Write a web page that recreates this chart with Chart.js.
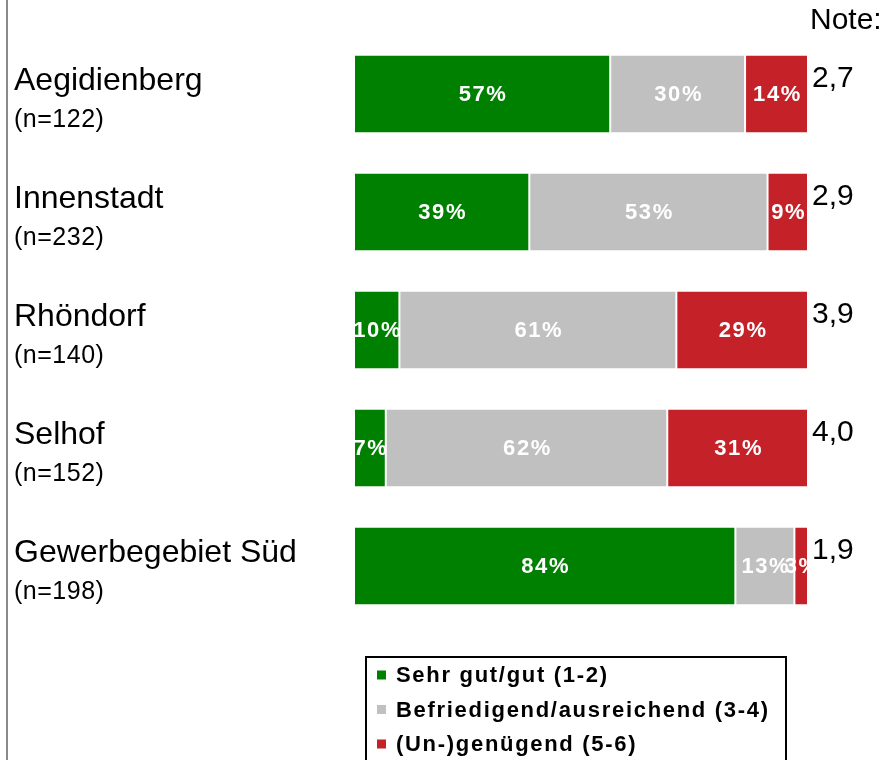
<!DOCTYPE html>
<html>
<head>
<meta charset="utf-8">
<script src="https://cdn.jsdelivr.net/npm/chart.js@4"></script>
<style>
  html, body { margin: 0; padding: 0; background: #ffffff; }
  #wrap { width: 886px; height: 760px; position: relative; }
</style>
</head>
<body>
<div id="wrap"><canvas id="c" width="886" height="760"></canvas></div>
<script>
// ---- Data ----
const categories = ['Aegidienberg', 'Innenstadt', 'Rhöndorf', 'Selhof', 'Gewerbegebiet Süd'];
const sampleSizes = ['(n=122)', '(n=232)', '(n=140)', '(n=152)', '(n=198)'];
const seriesNames = ['Sehr gut/gut (1-2)', 'Befriedigend/ausreichend (3-4)', '(Un-)genügend (5-6)'];
const sehrGut = [57, 39, 10, 7, 84];
const befriedigend = [30, 53, 61, 62, 13];
const ungenuegend = [14, 9, 29, 31, 3];
const grades = ['2,7', '2,9', '3,9', '4,0', '1,9'];
const gradeHeader = 'Note:';

const colors = ['#008000', '#C0C0C0', '#C42128'];
const rawSeries = [sehrGut, befriedigend, ungenuegend];
// normalise each row to a 100 % bar (displayed values are rounded)
const totals = categories.map((_, i) => rawSeries.reduce((s, arr) => s + arr[i], 0));
const datasets = rawSeries.map((arr, d) => ({
  label: seriesNames[d],
  data: arr.map((v, i) => v / totals[i] * 100),
  rawLabels: arr.map(v => v + '%'),
  backgroundColor: colors[d],
  borderColor: '#ffffff',
  borderWidth: { left: 1, right: 1, top: 0, bottom: 0 },
  borderSkipped: false,
  barPercentage: 0.6525,
  categoryPercentage: 1.0
}));

const FONT = '"Liberation Sans", Arial, sans-serif';

const decorPlugin = {
  id: 'decor',
  beforeDraw(chart) {
    const ctx = chart.ctx;
    ctx.save();
    ctx.fillStyle = '#ffffff';
    ctx.fillRect(0, 0, chart.width, chart.height);
    ctx.fillStyle = '#8a8a8a';
    ctx.fillRect(6, 0, 2, chart.height);
    ctx.restore();
  },
  afterDatasetsDraw(chart) {
    const ctx = chart.ctx;
    ctx.save();
    // labels inside bars
    ctx.fillStyle = '#ffffff';
    ctx.font = 'bold 22px ' + FONT;
    ctx.letterSpacing = '1.6px';
    ctx.textAlign = 'center';
    ctx.textBaseline = 'middle';
    chart.data.datasets.forEach((ds, d) => {
      const meta = chart.getDatasetMeta(d);
      meta.data.forEach((el, i) => {
        const cx = (el.base + el.x) / 2 + 1;
        ctx.fillText(ds.rawLabels[i], cx, el.y + 1);
      });
    });
    ctx.letterSpacing = '0px';

    // category labels and grades
    const meta0 = chart.getDatasetMeta(0);
    const area = chart.chartArea;
    ctx.fillStyle = '#000000';
    ctx.textAlign = 'left';
    meta0.data.forEach((el, i) => {
      ctx.font = '32px ' + FONT;
      ctx.fillText(categories[i], 14, el.y - 13);
      ctx.font = '25px ' + FONT;
      ctx.letterSpacing = '0.5px';
      ctx.fillText(sampleSizes[i], 14, el.y + 26);
      ctx.letterSpacing = '0px';
      ctx.font = '30px ' + FONT;
      ctx.fillText(grades[i], area.right + 4, el.y - 15);
    });
    ctx.font = '30px ' + FONT;
    ctx.fillText(gradeHeader, 810, 21);

    // legend box
    ctx.strokeStyle = '#000000';
    ctx.lineWidth = 2;
    ctx.strokeRect(366, 657, 420, 130);
    ctx.font = 'bold 22px ' + FONT;
    ctx.letterSpacing = '1.7px';
    const rowY = [675, 709.5, 744];
    chart.data.datasets.forEach((ds, d) => {
      ctx.fillStyle = ds.backgroundColor;
      ctx.fillRect(377, rowY[d] - 4.5, 9, 9);
      ctx.fillStyle = '#000000';
      ctx.fillText(ds.label, 396, rowY[d] + 1);
    });
    ctx.restore();
  }
};

new Chart(document.getElementById('c'), {
  type: 'bar',
  data: { labels: categories, datasets },
  options: {
    indexAxis: 'y',
    responsive: false,
    animation: false,
    devicePixelRatio: 1,
    layout: { padding: { left: 354, right: 78, top: 35, bottom: 135 } },
    scales: {
      x: { stacked: true, min: 0, max: 100, display: false },
      y: { stacked: true, display: false }
    },
    plugins: {
      legend: { display: false },
      tooltip: { enabled: false }
    }
  },
  plugins: [decorPlugin]
});
</script>
</body>
</html>
